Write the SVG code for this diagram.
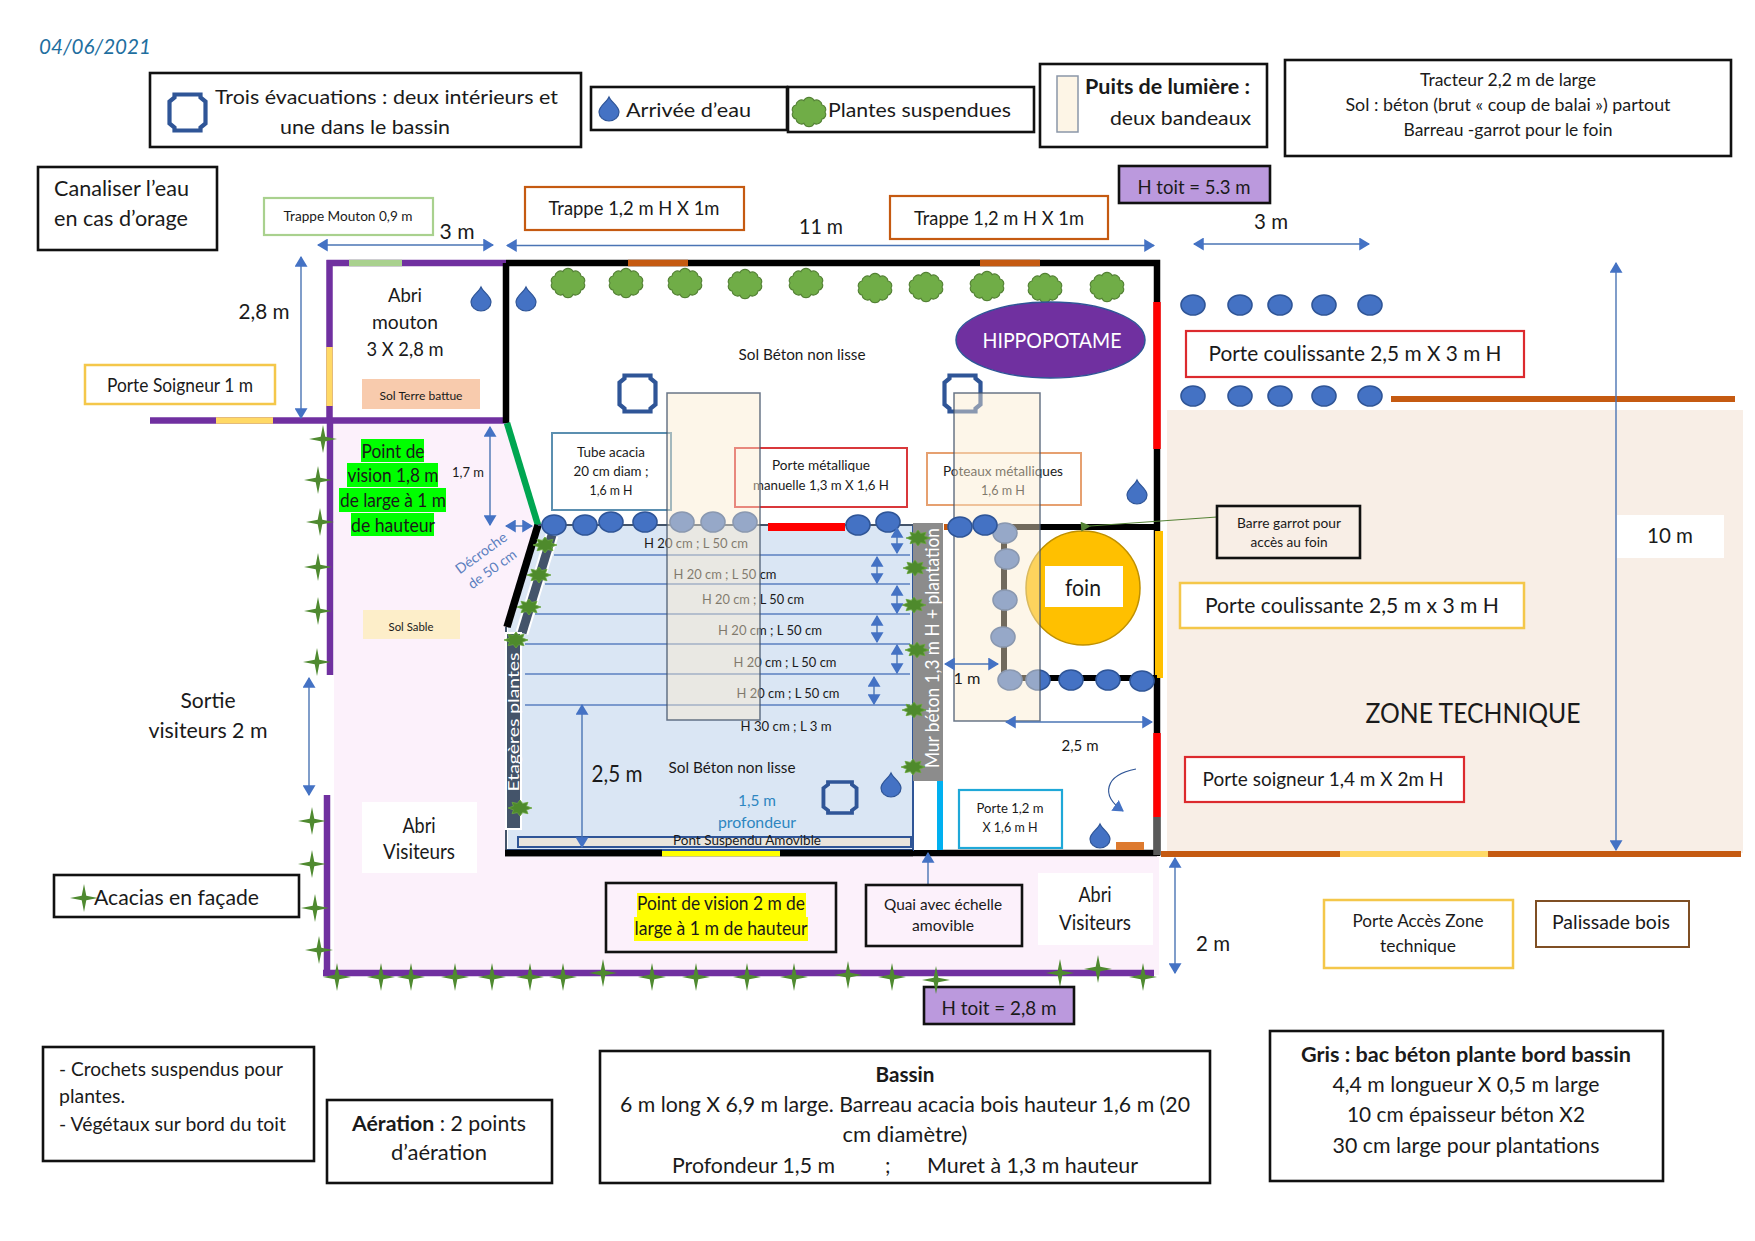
<svg xmlns="http://www.w3.org/2000/svg" width="1755" height="1241" viewBox="0 0 1755 1241">
<style>
text{font-family:Lato,"Liberation Sans",sans-serif;fill:#1a1a1a}
.c{text-anchor:middle}
.b{font-weight:700}
.s12{font-size:12px}.s13{font-size:13px}.s14{font-size:14px}.s15{font-size:15px}.s16{font-size:16px}.s17{font-size:17px}.s18{font-size:18.5px}.s19{font-size:20px}.s20{font-size:21px}.s22{font-size:22px}.s23{font-size:23px}.s26{font-size:26px}
.k{fill:none;stroke:#111;stroke-width:2.6}
.kf{stroke:#111;stroke-width:2.6}
.y{fill:#fff;stroke:#f4c74a;stroke-width:2.5}
.o{fill:#fff;stroke:#c55a11;stroke-width:2.2}
.r{fill:#fff;stroke:#dc2a2e;stroke-width:2.2}
.w{fill:none;stroke-linecap:butt}
.dim{fill:none;stroke:#4a74b4;stroke-width:1.4;marker-start:url(#ah);marker-end:url(#ah)}
.one{fill:none;stroke:#4a74b4;stroke-width:1.4;marker-end:url(#ah)}
.post{fill:#4472c4;stroke:#2f5597;stroke-width:1.6}
.oct{fill:none;stroke:#2f5597;stroke-width:4.2}
.well{fill:#fbebce;fill-opacity:.45;stroke:#44546a;stroke-width:1.5;stroke-opacity:.8}
.pl{stroke:#5b80c0;stroke-width:1.6}
</style>
<defs>
<marker id="ah" viewBox="0 0 10 12" refX="9" refY="6" markerWidth="11" markerHeight="13" markerUnits="userSpaceOnUse" orient="auto-start-reverse"><path d="M0 0L10 6L0 12Z" fill="#4472c4"/></marker>
<marker id="ag" viewBox="0 0 10 10" refX="1" refY="5" markerWidth="13" markerHeight="10" markerUnits="userSpaceOnUse" orient="auto"><path d="M10 0L0 5L10 10Z" fill="#548235"/></marker>
<path id="drop" d="M0-12C2-7 10-3 10 3A10 9 0 0 1-10 3C-10-3-2-7 0-12Z" fill="#4472c4" stroke="#2f5597" stroke-width="1.2"/>
<path id="octa" class="oct" d="M-13-18H13V-15L18-11V11L13 15V18H-13V15L-18 11V-11L-13-15Z"/>
<path id="cloud" d="M16 0A4.5 4.5 0 0 1 13 7A5.5 5.5 0 0 1 5 11.4A5.5 5.5 0 0 1-5 11.4A5.5 5.5 0 0 1-13 7A4.5 4.5 0 0 1-16 0A4.5 4.5 0 0 1-13-7A5.5 5.5 0 0 1-5-11.4A5.5 5.5 0 0 1 5-11.4A5.5 5.5 0 0 1 13-7A4.5 4.5 0 0 1 16 0Z" fill="#70ad47" stroke="#548235" stroke-width="1.2"/>
<path id="star" d="M0-14L2.3-2.3L14 0L2.3 2.3L0 14L-2.3 2.3L-14 0L-2.3-2.3Z" fill="#4f8a30"/>
<path id="spiky" d="M12 0L6.5 1.9L8 5.7L2.7 4.6L0 8L-2.7 4.6L-8 5.7L-6.5 1.9L-12 0L-6.5-1.9L-8-5.700L-2.7-4.6L0-8L2.7-4.6L8-5.7L6.5-1.9Z" fill="#4e8a2c" stroke="#6aa83c" stroke-width=".8"/>
</defs>
<rect width="1755" height="1241" fill="#fff"/>

<g id="ground">
<path d="M334 423H507L538 525L507 627V855H1159V975H334Z" fill="#fcf1fb"/>
<rect x="1167" y="410" width="576" height="443" fill="#f8eee6"/>
<path d="M538 525H913V851H508V627Z" fill="#dae6f4"/>
</g>

<g id="walls" class="w">
<path d="M329.500 260V423M326.500 263H506" stroke="#7030a0" stroke-width="6.500"/>
<path d="M150 420.500H506" stroke="#7030a0" stroke-width="6.500"/>
<path d="M349 263H402" stroke="#a9d18e" stroke-width="6.500"/>
<path d="M329.500 347V406" stroke="#ffd966" stroke-width="6.500"/>
<path d="M216 420.500H273" stroke="#ffd966" stroke-width="6.500"/>
<path d="M330 420V675M327 795V976M323 973H1154" stroke="#7030a0" stroke-width="6.500"/>
<path d="M506 263H1157V856M506 263V423M505 853H1157" stroke="#000" stroke-width="6.500"/>
<path d="M628 263H688M980 263H1040" stroke="#c55a11" stroke-width="6.500"/>
<path d="M1157 302V449M1157 733V817" stroke="#f00" stroke-width="7.500"/>
<path d="M1159 531V678" stroke="#ffc000" stroke-width="8"/>
<path d="M1157 817V855" stroke="#595959" stroke-width="7.500"/>
<path d="M662 853H780" stroke="#ff0" stroke-width="6.500"/>
<path d="M507 423L538 525" stroke="#00a651" stroke-width="6.500"/>
<path d="M538 525L507 627" stroke="#000" stroke-width="7.500"/>
<path d="M506 627V853" stroke="#44546a" stroke-width="2"/>
<path d="M1391 399H1735M1161 854H1741" stroke="#c55a11" stroke-width="6"/>
<path d="M1340 854H1488" stroke="#ffd966" stroke-width="6"/>
<path d="M913 525V851" stroke="#2f5597" stroke-width="2"/>
<path d="M538 525H913" stroke="#44546a" stroke-width="2"/>
</g>

<g id="pool-lines">
<path class="pl" d="M554 555H910M545 584H910M535 614H910M525 644H910M525 674H910M525 705H910"/>
<g class="s14">
<text class="c" x="696" y="548" textLength="104" lengthAdjust="spacingAndGlyphs">H 20 cm ; L 50 cm</text>
<text class="c" x="725" y="579" textLength="103" lengthAdjust="spacingAndGlyphs">H 20 cm ; L 50 cm</text>
<text class="c" x="753" y="604" textLength="102" lengthAdjust="spacingAndGlyphs">H 20 cm ; L 50 cm</text>
<text class="c" x="770" y="635" textLength="104" lengthAdjust="spacingAndGlyphs">H 20 cm ; L 50 cm</text>
<text class="c" x="785" y="667" textLength="103" lengthAdjust="spacingAndGlyphs">H 20 cm ; L 50 cm</text>
<text class="c" x="788" y="698" textLength="103" lengthAdjust="spacingAndGlyphs">H 20 cm ; L 50 cm</text>
<text class="c" x="786" y="731" textLength="91" lengthAdjust="spacingAndGlyphs">H 30 cm ; L 3 m</text>
</g>
</g>

<g id="plant-beds">
<path d="M552 535L522 633" stroke="#fff" stroke-width="13" fill="none"/>
<path d="M552 535L522 633" stroke="#44546a" stroke-width="9" fill="none"/>
<rect x="506" y="633" width="15" height="196" fill="#44546a" stroke="#fff" stroke-width="2"/>
<text transform="translate(519 722) rotate(-90)" class="c s16" style="fill:#fff" textLength="139" lengthAdjust="spacingAndGlyphs">Etagères plantes</text>
<rect x="913" y="523" width="30" height="258" fill="#8c8c8c"/>
<text transform="translate(939 648) rotate(-90)" class="c s18" style="fill:#fff" textLength="240" lengthAdjust="spacingAndGlyphs">Mur béton 1,3 m H + plantation</text>
<rect x="914" y="781" width="23" height="69" fill="#fff"/>
<rect x="937" y="781" width="6" height="69" fill="#00b0f0"/>
<rect x="944" y="524" width="5" height="6" fill="#c55a11"/>
<use href="#spiky" x="545" y="545"/><use href="#spiky" x="539" y="575"/><use href="#spiky" x="529" y="607"/><use href="#spiky" x="516" y="640"/><use href="#spiky" x="520" y="808"/>
<use href="#spiky" x="918" y="538"/><use href="#spiky" x="915" y="568"/><use href="#spiky" x="914" y="605"/><use href="#spiky" x="917" y="650"/><use href="#spiky" x="914" y="710"/><use href="#spiky" x="913" y="767"/>
</g>

<g id="pont">
<rect x="518" y="837" width="393" height="10" fill="#e8e4dc" stroke="#2f5597" stroke-width="2"/>
<path d="M507 850H913" stroke="#2f5597" stroke-width="2"/>
<path d="M505 853H662M780 853H913" stroke="#000" stroke-width="6.500"/>
<text class="c s14" x="747" y="845" textLength="148" lengthAdjust="spacingAndGlyphs">Pont Suspendu Amovible</text>
</g>

<g id="stars">
<use href="#star" x="323" y="439"/><use href="#star" x="318" y="480"/><use href="#star" x="320" y="522"/><use href="#star" x="318" y="567"/><use href="#star" x="318" y="611"/><use href="#star" x="317" y="662"/>
<use href="#star" x="312" y="821"/><use href="#star" x="312" y="864"/><use href="#star" x="315" y="908"/><use href="#star" x="319" y="950"/>
<use href="#star" x="337" y="977"/><use href="#star" x="381" y="977"/><use href="#star" x="411" y="977"/><use href="#star" x="455" y="977"/><use href="#star" x="492" y="977"/><use href="#star" x="530" y="977"/><use href="#star" x="563" y="977"/><use href="#star" x="603" y="973"/><use href="#star" x="652" y="977"/><use href="#star" x="696" y="977"/><use href="#star" x="747" y="977"/><use href="#star" x="794" y="977"/><use href="#star" x="848" y="975"/>
<use href="#star" x="892" y="977"/><use href="#star" x="1060" y="973"/><use href="#star" x="1098" y="969"/><use href="#star" x="1143" y="977"/>
</g>

<g id="plants">
<use href="#cloud" x="568" y="283"/><use href="#cloud" x="626" y="283"/><use href="#cloud" x="685" y="283"/><use href="#cloud" x="745" y="284"/><use href="#cloud" x="806" y="283"/><use href="#cloud" x="875" y="288"/><use href="#cloud" x="926" y="287"/><use href="#cloud" x="987" y="286"/><use href="#cloud" x="1045" y="288"/><use href="#cloud" x="1107" y="287"/>
</g>

<g id="drops">
<use href="#drop" x="481" y="299"/><use href="#drop" x="526" y="299"/><use href="#drop" x="1137" y="492"/><use href="#drop" x="891" y="785"/><use href="#drop" x="1100" y="836"/>
</g>

<g id="hippo">
<ellipse cx="1050.500" cy="340" rx="94.500" ry="38" fill="#7030a0" stroke="#2f5597" stroke-width="1.500"/>
<text class="c s22" x="1052" y="348" style="fill:#fff" textLength="139" lengthAdjust="spacingAndGlyphs">HIPPOPOTAME</text>
</g>

<g id="texts-floor">
<text class="c s15" x="802" y="360" textLength="127" lengthAdjust="spacingAndGlyphs">Sol Béton non lisse</text>
<text class="c s19" x="405" y="302" textLength="34" lengthAdjust="spacingAndGlyphs">Abri</text><text class="c s19" x="405" y="329" textLength="66" lengthAdjust="spacingAndGlyphs">mouton</text><text class="c s19" x="405" y="356" textLength="77" lengthAdjust="spacingAndGlyphs">3 X 2,8 m</text>
<text class="c s16" x="732" y="773" textLength="127" lengthAdjust="spacingAndGlyphs">Sol Béton non lisse</text>
<text class="c s16" x="757" y="806" style="fill:#2e86c1" textLength="38" lengthAdjust="spacingAndGlyphs">1,5 m</text>
<text class="c s16" x="757" y="828" style="fill:#2e86c1" textLength="78" lengthAdjust="spacingAndGlyphs">profondeur</text>
<text class="c s26" x="1473" y="723" textLength="215" lengthAdjust="spacingAndGlyphs">ZONE TECHNIQUE</text>
<text class="c s20" x="208" y="708" textLength="55" lengthAdjust="spacingAndGlyphs">Sortie</text><text class="c s20" x="208" y="738" textLength="119" lengthAdjust="spacingAndGlyphs">visiteurs 2 m</text>
</g>

<g id="sol-terre"><rect x="362" y="379" width="118" height="30" fill="#f8cbad"/><text class="c s12" x="421" y="400" textLength="83" lengthAdjust="spacingAndGlyphs">Sol Terre battue</text></g>
<g id="sol-sable"><rect x="363" y="610" width="97" height="29" fill="#fdeec9"/><text class="c s12" x="411" y="631" textLength="45" lengthAdjust="spacingAndGlyphs">Sol Sable</text></g>
<g id="abri-visiteurs-1"><rect x="362" y="802" width="115" height="71" fill="#fff"/><text class="c s20" x="419" y="833" textLength="33" lengthAdjust="spacingAndGlyphs">Abri</text><text class="c s20" x="419" y="859" textLength="72" lengthAdjust="spacingAndGlyphs">Visiteurs</text></g>
<g id="abri-visiteurs-2"><rect x="1038" y="873" width="115" height="72" fill="#fff"/><text class="c s20" x="1095" y="902" textLength="33" lengthAdjust="spacingAndGlyphs">Abri</text><text class="c s20" x="1095" y="930" textLength="72" lengthAdjust="spacingAndGlyphs">Visiteurs</text></g>

<g id="vision-verte">
<path d="M361 439H424V462H361ZM347 463H438V487H347ZM339 488H446V512H339ZM351 513H434V536H351Z" fill="#0f0"/>
<g class="s18"><text class="c" x="393" y="458" textLength="63" lengthAdjust="spacingAndGlyphs">Point de</text><text class="c" x="393" y="482" textLength="91" lengthAdjust="spacingAndGlyphs">vision 1,8 m</text><text class="c" x="393" y="507" textLength="106" lengthAdjust="spacingAndGlyphs">de large à 1 m</text><text class="c" x="393" y="532" textLength="84" lengthAdjust="spacingAndGlyphs">de hauteur</text></g>
</g>

<g id="tube-acacia"><rect x="552" y="433" width="119" height="77" fill="#fff" stroke="#5b8fb0" stroke-width="2"/><g class="s13"><text class="c" x="611" y="457" textLength="68" lengthAdjust="spacingAndGlyphs">Tube acacia</text><text class="c" x="611" y="476" textLength="75" lengthAdjust="spacingAndGlyphs">20 cm diam ;</text><text class="c" x="611" y="495" textLength="43" lengthAdjust="spacingAndGlyphs">1,6 m H</text></g></g>
<g id="porte-metal"><rect x="735" y="448" width="172" height="59" fill="#fff" stroke="#d9383b" stroke-width="2"/><g class="s13"><text class="c" x="821" y="470" textLength="98" lengthAdjust="spacingAndGlyphs">Porte métallique</text><text class="c" x="821" y="490" textLength="136" lengthAdjust="spacingAndGlyphs">manuelle 1,3 m X 1,6 H</text></g></g>
<g id="poteaux"><rect x="927" y="453" width="154" height="52" fill="#fff" stroke="#e6a070" stroke-width="2"/><g class="s13"><text class="c" x="1003" y="476" textLength="120" lengthAdjust="spacingAndGlyphs">Poteaux métalliques</text><text class="c" x="1003" y="495" textLength="44" lengthAdjust="spacingAndGlyphs">1,6 m H</text></g></g>
<g id="porte-12"><rect x="959" y="790" width="103" height="58" fill="#fff" stroke="#1fa8d8" stroke-width="2.200"/><g class="s13"><text class="c" x="1010" y="813" textLength="67" lengthAdjust="spacingAndGlyphs">Porte 1,2 m</text><text class="c" x="1010" y="832" textLength="55" lengthAdjust="spacingAndGlyphs">X 1,6 m H</text></g></g>

<g id="foin">
<circle cx="1083" cy="588" r="57" fill="#ffc000" stroke="#bf9000" stroke-width="1.500"/>
<rect x="1045" y="566" width="78" height="41" fill="#fff"/>
<text class="c s23" x="1083" y="596" textLength="36" lengthAdjust="spacingAndGlyphs">foin</text>
</g>

<g id="barrier" class="w">
<path d="M768 527H845" stroke="#f00" stroke-width="8"/>
<path d="M1005 527H1157" stroke="#000" stroke-width="6"/>
<path d="M1004 527V678H1157" stroke="#000" stroke-width="6"/>
<g class="post">
<ellipse cx="554" cy="525" rx="12" ry="10"/><ellipse cx="585" cy="525" rx="12" ry="10"/><ellipse cx="611" cy="522" rx="12" ry="10"/><ellipse cx="645" cy="522" rx="12" ry="10"/><ellipse cx="682" cy="522" rx="12" ry="10"/><ellipse cx="713" cy="522" rx="12" ry="10"/><ellipse cx="745" cy="522" rx="12" ry="10"/>
<ellipse cx="858" cy="525" rx="12" ry="10"/><ellipse cx="888" cy="522" rx="12" ry="10"/>
<ellipse cx="1005" cy="533" rx="12" ry="10"/><ellipse cx="1007" cy="559" rx="12" ry="10"/><ellipse cx="1005" cy="600" rx="12" ry="10"/><ellipse cx="1003" cy="637" rx="12" ry="10"/><ellipse cx="1010" cy="680" rx="12" ry="10"/><ellipse cx="1038" cy="680" rx="12" ry="10"/>
<ellipse cx="1071" cy="680" rx="12" ry="10"/><ellipse cx="1108" cy="680" rx="12" ry="10"/><ellipse cx="1142" cy="681" rx="12" ry="10"/>
<ellipse cx="1193" cy="305" rx="12" ry="10"/><ellipse cx="1240" cy="305" rx="12" ry="10"/><ellipse cx="1280" cy="305" rx="12" ry="10"/><ellipse cx="1324" cy="305" rx="12" ry="10"/><ellipse cx="1370" cy="305" rx="12" ry="10"/>
<ellipse cx="1193" cy="396" rx="12" ry="10"/><ellipse cx="1240" cy="396" rx="12" ry="10"/><ellipse cx="1280" cy="396" rx="12" ry="10"/><ellipse cx="1324" cy="396" rx="12" ry="10"/><ellipse cx="1370" cy="396" rx="12" ry="10"/>
</g>
</g>

<g id="evacuations">
<use href="#octa" x="637.500" y="393.500"/><use href="#octa" x="962.500" y="393.500"/><use href="#octa" transform="translate(840 797.500) scale(.92 .86)"/>
</g>

<g id="puits">
<rect class="well" x="667" y="393" width="93" height="327"/>
<rect class="well" x="954" y="393" width="86" height="328"/>
</g>

<g class="post" id="posts-front"><ellipse cx="960" cy="527" rx="12" ry="10"/><ellipse cx="985" cy="525" rx="12" ry="10"/></g>
<rect x="1116" y="842" width="28" height="8" fill="#dd7a2f"/>

<g id="connectors">
<path class="dim" d="M318 245H493"/>
<path class="dim" d="M507 245.500H1154"/>
<path class="dim" d="M1194 244H1369"/>
<path class="dim" d="M301 257V418"/>
<path class="dim" d="M490 427V525"/>
<path class="dim" d="M506 526H532"/>
<path class="dim" d="M309 678V795"/>
<path class="dim" d="M582 705V847"/>
<path class="dim" d="M1175 858V973"/>
<path class="dim" d="M1616 263V850"/>
<path class="dim" d="M945 664H998"/>
<path class="dim" d="M1006 722H1152"/>
<path class="dim" d="M897 528V553"/><path class="dim" d="M877 557V583"/><path class="dim" d="M897 586V613"/><path class="dim" d="M877 616V642"/><path class="dim" d="M897 645V673"/><path class="dim" d="M874 677V704"/>
<path class="one" d="M928 884V853"/>
<path d="M1217 517L1090 526" fill="none" stroke="#548235" stroke-width="1.200" marker-end="url(#ag)"/>
<path class="one" d="M1136 769C1105 775 1100 795 1123 811" style="stroke:#2f5597;stroke-width:1.200"/>
</g>

<g id="dim-labels">
<text class="c s20" x="457" y="239" textLength="35" lengthAdjust="spacingAndGlyphs">3 m</text>
<text class="c s20" x="821" y="234" textLength="44" lengthAdjust="spacingAndGlyphs">11 m</text>
<text class="c s20" x="1271" y="229" textLength="34" lengthAdjust="spacingAndGlyphs">3 m</text>
<text class="c s20" x="264" y="319" textLength="51" lengthAdjust="spacingAndGlyphs">2,8 m</text>
<text class="c s14" x="468" y="477" textLength="32" lengthAdjust="spacingAndGlyphs">1,7 m</text>
<text class="c s23" x="617" y="782" textLength="51" lengthAdjust="spacingAndGlyphs">2,5 m</text>
<text class="c s16" x="967" y="684" textLength="27" lengthAdjust="spacingAndGlyphs">1 m</text>
<text class="c s15" x="1080" y="751" textLength="37" lengthAdjust="spacingAndGlyphs">2,5 m</text>
<rect x="1617" y="515" width="107" height="43" fill="#fff"/>
<text class="c s20" x="1670" y="543" textLength="46" lengthAdjust="spacingAndGlyphs">10 m</text>
<text class="c s20" x="1213" y="951" textLength="34" lengthAdjust="spacingAndGlyphs">2 m</text>
<text transform="translate(484 557) rotate(-36)" class="c s14" style="fill:#5b7fbf" textLength="60" lengthAdjust="spacingAndGlyphs">Décroche</text><text transform="translate(495 573) rotate(-36)" class="c s14" style="fill:#5b7fbf" textLength="56" lengthAdjust="spacingAndGlyphs">de 50 cm</text>
</g>

<g id="date"><text x="39" y="54" font-style="italic" class="s20" style="fill:#1f6f9f" textLength="112" lengthAdjust="spacingAndGlyphs">04/06/2021</text></g>
<g id="legend-evac"><rect class="k" x="150" y="73" width="431" height="74"/><use href="#octa" x="187.500" y="112.500"/><text class="s19" x="215" y="104" textLength="343" lengthAdjust="spacingAndGlyphs">Trois évacuations : deux intérieurs et</text><text class="c s19" x="365" y="134" textLength="170" lengthAdjust="spacingAndGlyphs">une dans le bassin</text></g>
<g id="legend-eau"><rect class="k" x="591" y="87" width="196" height="43"/><use href="#drop" x="609" y="109"/><text class="s19" x="626" y="117" textLength="125" lengthAdjust="spacingAndGlyphs">Arrivée d’eau</text></g>
<g id="legend-plantes"><rect class="k" x="788" y="87" width="246" height="45"/><use href="#cloud" x="809" y="112"/><text class="s19" x="828" y="117" textLength="183" lengthAdjust="spacingAndGlyphs">Plantes suspendues</text></g>
<g id="legend-puits"><rect class="k" x="1040" y="64" width="227" height="83"/><rect x="1057" y="76" width="21" height="56" fill="#fdf5e6" stroke="#8a96a8" stroke-width="1.500"/><text class="b s19" x="1085" y="94" textLength="165" lengthAdjust="spacingAndGlyphs">Puits de lumière :</text><text class="s19" x="1110" y="125" textLength="141" lengthAdjust="spacingAndGlyphs">deux bandeaux</text></g>
<g id="tracteur"><rect class="k" x="1285" y="60" width="446" height="96"/><g class="s17"><text class="c" x="1508" y="86" textLength="176" lengthAdjust="spacingAndGlyphs">Tracteur 2,2 m de large</text><text class="c" x="1508" y="111" textLength="325" lengthAdjust="spacingAndGlyphs">Sol : béton (brut « coup de balai ») partout</text><text class="c" x="1508" y="136" textLength="209" lengthAdjust="spacingAndGlyphs">Barreau -garrot pour le foin</text></g></g>
<g id="canaliser"><rect class="k" x="38" y="167" width="179" height="83"/><text class="s20" x="54" y="196" textLength="135" lengthAdjust="spacingAndGlyphs">Canaliser l’eau</text><text class="s20" x="54" y="226" textLength="134" lengthAdjust="spacingAndGlyphs">en cas d’orage</text></g>
<g id="trappe-mouton"><rect x="264" y="198" width="169" height="37" fill="#fff" stroke="#a9d18e" stroke-width="2.200"/><text class="c s14" x="348" y="221" textLength="129" lengthAdjust="spacingAndGlyphs">Trappe Mouton 0,9 m</text></g>
<g id="trappe-1"><rect class="o" x="525" y="187" width="219" height="43"/><text class="c s18" x="634" y="215" textLength="171" lengthAdjust="spacingAndGlyphs">Trappe 1,2 m H X 1m</text></g>
<g id="trappe-2"><rect class="o" x="890" y="196" width="218" height="43"/><text class="c s18" x="999" y="225" textLength="170" lengthAdjust="spacingAndGlyphs">Trappe 1,2 m H X 1m</text></g>
<g id="h-toit-53"><rect class="kf" x="1119" y="166" width="151" height="37" fill="#bb99dd"/><text class="c s18" x="1194" y="194" textLength="113" lengthAdjust="spacingAndGlyphs">H toit = 5.3 m</text></g>
<g id="porte-soigneur-1"><rect class="y" x="85" y="365" width="190" height="39"/><text class="c s18" x="180" y="392" textLength="146" lengthAdjust="spacingAndGlyphs">Porte Soigneur 1 m</text></g>
<g id="porte-coul-1"><rect class="r" x="1186" y="331" width="338" height="46"/><text class="c s22" x="1355" y="361" textLength="293" lengthAdjust="spacingAndGlyphs">Porte coulissante 2,5 m X 3 m H</text></g>
<g id="barre-garrot"><rect class="k" x="1217" y="506" width="143" height="52"/><g class="s13"><text class="c" x="1289" y="528" textLength="104" lengthAdjust="spacingAndGlyphs">Barre garrot pour</text><text class="c" x="1289" y="547" textLength="77" lengthAdjust="spacingAndGlyphs">accès au foin</text></g></g>
<g id="porte-coul-2"><rect class="y" x="1180" y="583" width="344" height="45"/><text class="c s22" x="1352" y="613" textLength="294" lengthAdjust="spacingAndGlyphs">Porte coulissante 2,5 m x 3 m H</text></g>
<g id="porte-soigneur-2"><rect class="r" x="1185" y="757" width="279" height="45"/><text class="c s19" x="1323" y="786" textLength="241" lengthAdjust="spacingAndGlyphs">Porte soigneur 1,4 m X 2m H</text></g>
<g id="acacias" transform="translate(0 1)"><rect class="k" x="54" y="874" width="245" height="42"/><use href="#star" x="84" y="897"/><text class="s20" x="94" y="904" textLength="165" lengthAdjust="spacingAndGlyphs">Acacias en façade</text></g>
<g id="vision-jaune" transform="translate(0 1)"><rect class="k" x="606" y="882" width="230" height="69"/><path d="M637 892H806V916H637ZM634 916H808V940H634Z" fill="#ff0"/><g class="s18"><text class="c" x="721" y="909" textLength="168" lengthAdjust="spacingAndGlyphs">Point de vision 2 m de</text><text class="c" x="721" y="934" textLength="173" lengthAdjust="spacingAndGlyphs">large à 1 m de hauteur</text></g></g>
<g id="quai"><rect class="k" x="866" y="885" width="156" height="61"/><g class="s16"><text class="c" x="943" y="910" textLength="118" lengthAdjust="spacingAndGlyphs">Quai avec échelle</text><text class="c" x="943" y="931" textLength="62" lengthAdjust="spacingAndGlyphs">amovible</text></g></g>
<g id="h-toit-28" transform="translate(0 1)"><rect class="kf" x="924" y="986" width="150" height="37" fill="#bb99dd"/><text class="c s18" x="999" y="1014" textLength="115" lengthAdjust="spacingAndGlyphs">H toit = 2,8 m</text></g>
<use href="#star" x="936" y="980"/>
<g id="porte-acces" transform="translate(0 1)"><rect class="y" x="1324" y="899" width="189" height="68"/><g class="s17"><text class="c" x="1418" y="926" textLength="131" lengthAdjust="spacingAndGlyphs">Porte Accès Zone</text><text class="c" x="1418" y="951" textLength="76" lengthAdjust="spacingAndGlyphs">technique</text></g></g>
<g id="palissade" transform="translate(0 1)"><rect x="1536" y="900" width="153" height="46" fill="#fff" stroke="#7f4f24" stroke-width="2"/><text class="c s18" x="1611" y="928" textLength="118" lengthAdjust="spacingAndGlyphs">Palissade bois</text></g>
<g id="crochets" transform="translate(0 1)"><rect class="k" x="43" y="1046" width="271" height="114"/><g class="s18"><text x="59" y="1075" textLength="224" lengthAdjust="spacingAndGlyphs">- Crochets suspendus pour</text><text x="59" y="1102" textLength="66" lengthAdjust="spacingAndGlyphs">plantes.</text><text x="59" y="1130" textLength="227" lengthAdjust="spacingAndGlyphs">- Végétaux sur bord du toit</text></g></g>
<g id="aeration" transform="translate(0 1)"><rect class="k" x="327" y="1099" width="225" height="83"/><text class="c s20" x="439" y="1130" textLength="174" lengthAdjust="spacingAndGlyphs"><tspan class="b">Aération</tspan> : 2 points</text><text class="c s20" x="439" y="1159" textLength="96" lengthAdjust="spacingAndGlyphs">d’aération</text></g>
<g id="bassin" transform="translate(0 1)"><rect class="k" x="600" y="1050" width="610" height="132"/><g class="s20"><text class="c b" x="905" y="1081" textLength="59" lengthAdjust="spacingAndGlyphs">Bassin</text><text class="c" x="905" y="1111" textLength="570" lengthAdjust="spacingAndGlyphs">6 m long X 6,9 m large. Barreau acacia bois hauteur 1,6 m (20</text><text class="c" x="905" y="1141" textLength="125" lengthAdjust="spacingAndGlyphs">cm diamètre)</text><text x="672" y="1172" textLength="163" lengthAdjust="spacingAndGlyphs">Profondeur 1,5 m</text><text x="885" y="1172">;</text><text x="927" y="1172" textLength="211" lengthAdjust="spacingAndGlyphs">Muret à 1,3 m hauteur</text></g></g>
<g id="gris" transform="translate(0 1)"><rect class="k" x="1270" y="1030" width="393" height="150"/><g class="s20"><text class="c b" x="1466" y="1061" textLength="330" lengthAdjust="spacingAndGlyphs">Gris : bac béton plante bord bassin</text><text class="c" x="1466" y="1091" textLength="267" lengthAdjust="spacingAndGlyphs">4,4 m longueur X 0,5 m large</text><text class="c" x="1466" y="1121" textLength="238" lengthAdjust="spacingAndGlyphs">10 cm épaisseur béton X2</text><text class="c" x="1466" y="1152" textLength="267" lengthAdjust="spacingAndGlyphs">30 cm large pour plantations</text></g></g>
</svg>
